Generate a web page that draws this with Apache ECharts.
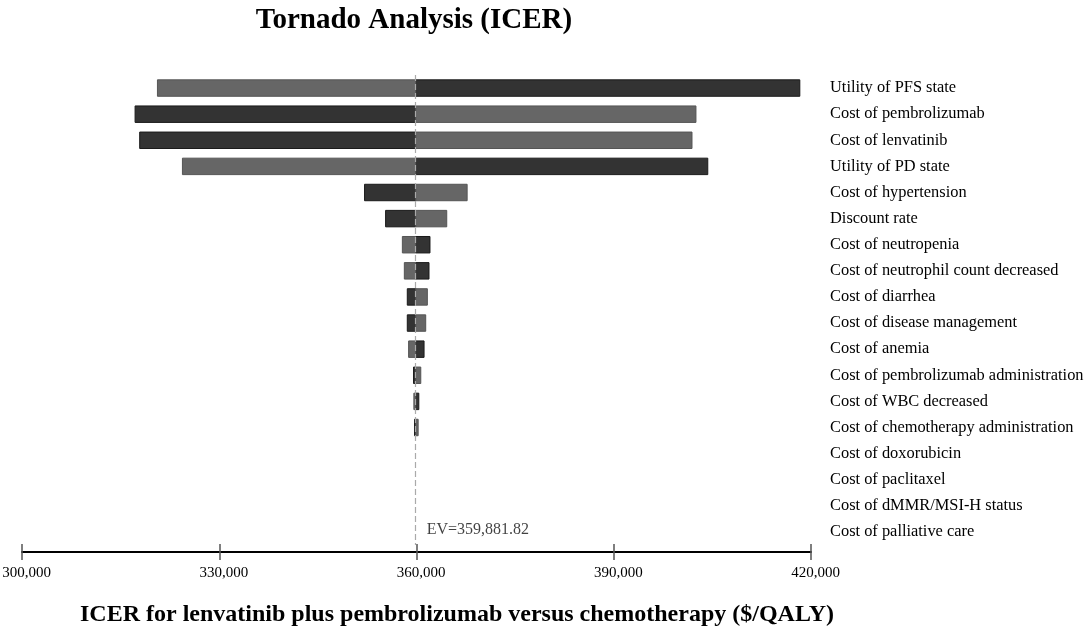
<!DOCTYPE html>
<html>
<head>
<meta charset="utf-8">
<script src="https://cdn.jsdelivr.net/npm/echarts@6/dist/echarts.min.js"></script>
<style>
  html, body { margin: 0; padding: 0; background: #fff; }
  #chart { width: 1084px; height: 626px; }
</style>
</head>
<body>
<div id="chart"></div>
<script>
const params = [
  'Utility of PFS state', 'Cost of pembrolizumab', 'Cost of lenvatinib', 'Utility of PD state',
  'Cost of hypertension', 'Discount rate', 'Cost of neutropenia', 'Cost of neutrophil count decreased',
  'Cost of diarrhea', 'Cost of disease management', 'Cost of anemia', 'Cost of pembrolizumab administration',
  'Cost of WBC decreased', 'Cost of chemotherapy administration', 'Cost of doxorubicin', 'Cost of paclitaxel',
  'Cost of dMMR/MSI-H status', 'Cost of palliative care'
];
const ev = 359881.82;
// ICER at one end of each parameter's range (drawn dark) and the other end (drawn grey)
const darkEnd = [
  418300, 317200, 317900, 404300, 352100, 355300, 362050, 361900,
  358600, 358600, 361150, 359550, 360350, 359700, 359900, 359900, 359900, 359881.82
];
const greyEnd = [
  320600, 402500, 401900, 324400, 367700, 364600, 357850, 358150,
  361650, 361400, 358800, 360650, 359600, 360250, 359880, 359880, 359880, 359881.82
];
const xTicks = [300000, 330000, 360000, 390000, 420000];

const serif = '"Liberation Serif", "Times New Roman", serif';

function bars(values, fill, stroke) {
  return {
    type: 'custom',
    xAxisIndex: 0,
    yAxisIndex: 0,
    data: values.map((v, i) => [v, i]),
    renderItem: (params, api) => {
      const a = api.coord([ev, api.value(1)]);
      const b = api.coord([api.value(0), api.value(1)]);
      const h = api.size([0, 1])[1] * 0.63;
      const x0 = Math.min(a[0], b[0]);
      const w = Math.abs(b[0] - a[0]);
      if (w < 0.5) return null;
      return {
        type: 'rect',
        shape: { x: x0, y: a[1] - h / 2, width: w, height: h },
        style: { fill: fill, stroke: stroke, lineWidth: 1 }
      };
    }
  };
}

const xRange = { min: xTicks[0], max: xTicks[xTicks.length - 1], interval: xTicks[1] - xTicks[0] };

const chart = echarts.init(document.getElementById('chart'));
chart.setOption({
  animation: false,
  title: {
    text: 'Tornado Analysis (ICER)',
    left: 409,
    textAlign: 'center',
    top: 1,
    textStyle: { fontFamily: serif, fontWeight: 'bold', fontSize: 29, color: '#000' }
  },
  grid: { left: 22, right: 273, top: 75, bottom: 81, outerBoundsMode: 'none', containLabel: false },
  xAxis: [{
    type: 'value',
    ...xRange,
    offset: 7,
    splitLine: { show: false },
    axisLine: { show: true, lineStyle: { color: '#000', width: 2 } },
    axisTick: { show: true, inside: false, length: 8, lineStyle: { color: '#555', width: 1.5 } },
    axisLabel: {
      margin: 14,
      padding: [0, 0, 0, 9],
      fontFamily: serif, fontSize: 15, color: '#000',
      formatter: v => v.toLocaleString('en-US')
    },
    name: 'ICER for lenvatinib plus pembrolizumab versus chemotherapy ($/QALY)',
    nameLocation: 'middle',
    nameGap: 51,
    nameTextStyle: { fontFamily: serif, fontWeight: 'bold', fontSize: 24, color: '#000', padding: [0, 0, 0, 81] }
  }, {
    type: 'value',
    position: 'bottom',
    ...xRange,
    offset: 7,
    splitLine: { show: false },
    axisLine: { show: false },
    axisTick: { show: true, inside: true, length: 8, lineStyle: { color: '#555', width: 1.5 } },
    axisLabel: { show: false }
  }],
  yAxis: {
    type: 'category',
    data: params,
    inverse: true,
    position: 'right',
    axisLine: { show: false },
    axisTick: { show: false },
    axisLabel: { margin: 19, align: 'left', fontFamily: serif, fontSize: 16.4, color: '#000' }
  },
  series: [
    bars(darkEnd, '#333333', '#1a1a1a'),
    bars(greyEnd, '#666666', '#555555'),
    {
      type: 'scatter',
      data: [[ev, params.length - 1]],
      symbolSize: 0,
      label: {
        show: true,
        position: 'right',
        distance: 11,
        offset: [0, -2],
        formatter: 'EV=' + ev.toLocaleString('en-US', { minimumFractionDigits: 2 }),
        fontFamily: serif, fontSize: 16, color: '#111'
      },
      markLine: {
        silent: true,
        symbol: 'none',
        label: { show: false },
        lineStyle: { color: '#aaa', type: [6, 3], width: 1.2 },
        data: [{ xAxis: ev }]
      }
    }
  ]
});
</script>
</body>
</html>
